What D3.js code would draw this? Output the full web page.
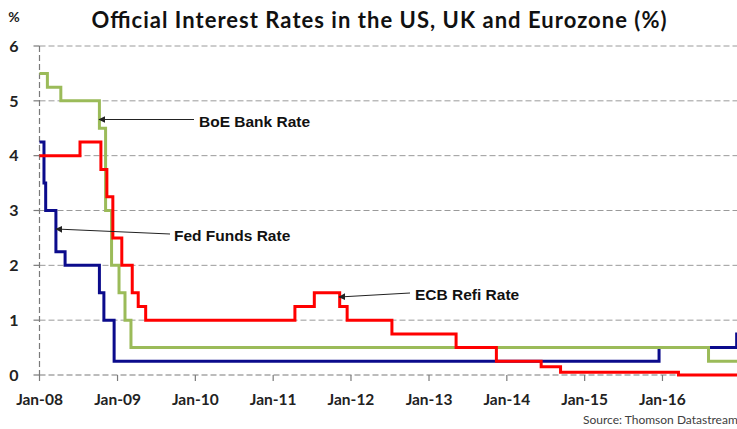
<!DOCTYPE html>
<html>
<head>
<meta charset="utf-8">
<script src="https://cdn.jsdelivr.net/npm/d3@7"></script>
<style>
  body { margin: 0; background: #fff; }
  svg { display: block; }
  .grid { stroke: #9a9a9a; stroke-width: 1; stroke-dasharray: 6,3; }
  .axis-line { stroke: #7a7a7a; stroke-width: 1.2; stroke-dasharray: 6,3; }
  .tick { stroke: #7a7a7a; stroke-width: 1.2; }
  .tick-label { font-family: Lato, sans-serif; font-weight: bold; font-size: 15.5px; fill: #222; }
  .note { font-family: "Liberation Sans", Arial, sans-serif; font-weight: bold; font-size: 15.5px; fill: #111; }
  .pointer { stroke: #222; stroke-width: 1; }
</style>
</head>
<body>
<svg id="chart" width="737" height="429"></svg>
<script>
var WIDTH = 737;
var HEIGHT = 429;

// step changes: date rate was set, new rate
var fedDates = ['2008-01-01', '2008-01-22', '2008-01-30', '2008-03-18', '2008-04-30',
  '2008-10-08', '2008-10-29', '2008-12-16', '2015-12-16', '2016-12-14'];
var fedRates = [4.25, 3.5, 3.0, 2.25, 2.0, 1.5, 1.0, 0.25, 0.5, 0.75];

var boeDates = ['2008-01-01', '2008-02-07', '2008-04-10', '2008-10-08', '2008-11-06',
  '2008-12-04', '2009-01-08', '2009-02-05', '2009-03-05', '2016-08-04'];
var boeRates = [5.5, 5.25, 5.0, 4.5, 3.0, 2.0, 1.5, 1.0, 0.5, 0.25];

var ecbDates = ['2008-01-01', '2008-07-09', '2008-10-15', '2008-11-12', '2008-12-10',
  '2009-01-21', '2009-03-11', '2009-04-08', '2009-05-13', '2011-04-13', '2011-07-13',
  '2011-11-09', '2011-12-14', '2012-07-11', '2013-05-08', '2013-11-13', '2014-06-11',
  '2014-09-10', '2016-03-16'];
var ecbRates = [4.0, 4.25, 3.75, 3.25, 2.5, 2.0, 1.5, 1.25, 1.0, 1.25, 1.5,
  1.25, 1.0, 0.75, 0.5, 0.25, 0.15, 0.05, 0.0];

var END_DATE = '2016-12-31';
var yTicks = [0, 1, 2, 3, 4, 5, 6];
var xTickYears = [2008, 2009, 2010, 2011, 2012, 2013, 2014, 2015, 2016];

var parse = d3.timeParse('%Y-%m-%d');

function toSeries (dates, rates) {
  var pts = dates.map(function (d, i) {
    return { date: parse(d), value: rates[i] };
  });
  pts.push({ date: parse(END_DATE), value: rates[rates.length - 1] });
  return pts;
}

var series = [
  { name: 'fed', color: '#0b0b8c', points: toSeries(fedDates, fedRates) },
  { name: 'boe', color: '#9bbb59', points: toSeries(boeDates, boeRates) },
  { name: 'ecb', color: '#ff0000', points: toSeries(ecbDates, ecbRates) }
];

var x = d3.scaleTime()
  .domain([new Date(2008, 0, 1), new Date(2017, 0, 1)])
  .range([39.5, 740.5]);

var y = d3.scaleLinear()
  .domain([0, 6])
  .range([375, 46]);

var svg = d3.select('#chart');

svg.append('defs').append('marker')
  .attr('id', 'arrow')
  .attr('viewBox', '0 -5 10 10')
  .attr('refX', 9)
  .attr('markerWidth', 7)
  .attr('markerHeight', 7)
  .attr('markerUnits', 'userSpaceOnUse')
  .attr('orient', 'auto')
  .append('path')
  .attr('d', 'M0,-5L10,0L0,5Z')
  .attr('fill', '#222');

// title and unit
svg.append('text')
  .attr('x', 379)
  .attr('y', 28)
  .attr('text-anchor', 'middle')
  .attr('textLength', 575)
  .attr('lengthAdjust', 'spacing')
  .style('font-family', 'Lato, sans-serif')
  .style('font-weight', 'bold')
  .style('font-size', '22px')
  .style('fill', '#111')
  .text('Official Interest Rates in the US, UK and Eurozone (%)');

svg.append('text')
  .attr('x', 14)
  .attr('y', 22)
  .attr('text-anchor', 'middle')
  .attr('class', 'tick-label')
  .style('font-size', '14px')
  .text('%');

// horizontal gridlines
svg.selectAll('.grid')
  .data(yTicks.filter(function (v) { return v > 0; }))
  .enter().append('line')
  .attr('class', 'grid')
  .attr('x1', x.range()[0])
  .attr('x2', WIDTH)
  .attr('y1', function (d) { return y(d); })
  .attr('y2', function (d) { return y(d); });

// axes: dashed lines with small solid ticks
svg.append('line')
  .attr('class', 'axis-line')
  .attr('x1', x.range()[0]).attr('x2', x.range()[0])
  .attr('y1', y(6)).attr('y2', y(0));

svg.append('line')
  .attr('class', 'axis-line')
  .attr('x1', x.range()[0]).attr('x2', WIDTH)
  .attr('y1', y(0)).attr('y2', y(0));

svg.selectAll('.ytick')
  .data(yTicks)
  .enter().append('line')
  .attr('class', 'tick')
  .attr('x1', x.range()[0] - 6).attr('x2', x.range()[0])
  .attr('y1', function (d) { return y(d); })
  .attr('y2', function (d) { return y(d); });

svg.selectAll('.ylabel')
  .data(yTicks)
  .enter().append('text')
  .attr('class', 'tick-label')
  .attr('x', 14)
  .attr('y', function (d) { return y(d); })
  .attr('dy', '0.36em')
  .attr('text-anchor', 'middle')
  .style('font-size', '16px')
  .text(function (d) { return d; });

var xTickDates = xTickYears.map(function (yr) { return new Date(yr, 0, 1); });

svg.selectAll('.xtick')
  .data(xTickDates)
  .enter().append('line')
  .attr('class', 'tick')
  .attr('x1', function (d) { return x(d); })
  .attr('x2', function (d) { return x(d); })
  .attr('y1', y(0)).attr('y2', y(0) + 6);

svg.selectAll('.xlabel')
  .data(xTickDates)
  .enter().append('text')
  .attr('class', 'tick-label')
  .attr('x', function (d) { return x(d); })
  .attr('y', 405)
  .attr('text-anchor', 'middle')
  .text(d3.timeFormat('%b-%y'));

// rate lines
var line = d3.line()
  .curve(d3.curveStepAfter)
  .x(function (d) { return x(d.date); })
  .y(function (d) { return y(d.value); });

svg.selectAll('.rate')
  .data(series)
  .enter().append('path')
  .attr('class', 'rate')
  .attr('fill', 'none')
  .attr('stroke', function (d) { return d.color; })
  .attr('stroke-width', 3)
  .attr('stroke-linejoin', 'miter')
  .attr('d', function (d) { return line(d.points); });

// annotations
var notes = [
  { text: 'BoE Bank Rate', tx: 199, ty: 127, x1: 194, y1: 119.5, x2: 99, y2: 119.5 },
  { text: 'Fed Funds Rate', tx: 174, ty: 241, x1: 170, y1: 234, x2: 56, y2: 229 },
  { text: 'ECB Refi Rate', tx: 415, ty: 300, x1: 410, y1: 293, x2: 339, y2: 297 }
];

svg.selectAll('.pointer')
  .data(notes)
  .enter().append('line')
  .attr('class', 'pointer')
  .attr('x1', function (d) { return d.x1; })
  .attr('y1', function (d) { return d.y1; })
  .attr('x2', function (d) { return d.x2; })
  .attr('y2', function (d) { return d.y2; })
  .attr('marker-end', 'url(#arrow)');

svg.selectAll('.note')
  .data(notes)
  .enter().append('text')
  .attr('class', 'note')
  .attr('x', function (d) { return d.tx; })
  .attr('y', function (d) { return d.ty; })
  .text(function (d) { return d.text; });

svg.append('text')
  .attr('x', 583)
  .attr('y', 424)
  .style('font-family', 'Lato, sans-serif')
  .style('font-size', '12px')
  .style('fill', '#404040')
  .text('Source: Thomson Datastream');
</script>
</body>
</html>
